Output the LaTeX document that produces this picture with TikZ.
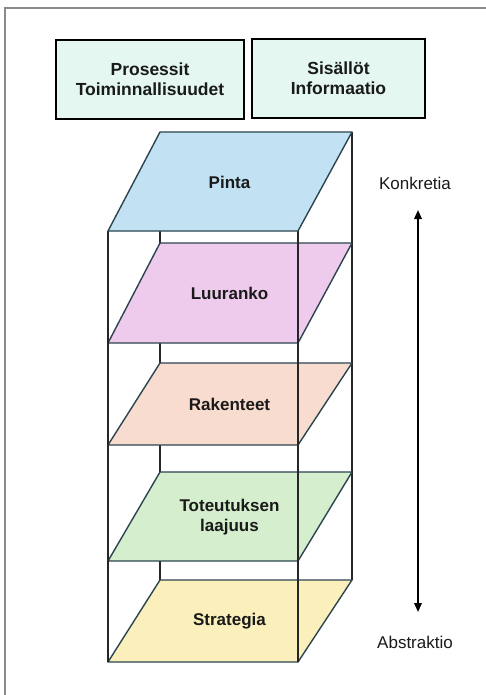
\documentclass[tikz,border=0pt]{standalone}
\usepackage{fontspec}
\setmainfont{Liberation Sans}
\usetikzlibrary{arrows.meta}
\definecolor{frame}{HTML}{8A8A8A}
\definecolor{boxfill}{HTML}{E4F7F1}
\definecolor{edge}{HTML}{2C4450}
\definecolor{cPinta}{HTML}{C2E2F3}
\definecolor{cLuu}{HTML}{EECBEC}
\definecolor{cRak}{HTML}{F8DCCF}
\definecolor{cTot}{HTML}{D4EECE}
\definecolor{cStr}{HTML}{FBF0BC}
\definecolor{txt}{HTML}{1A1A1A}
\tikzset{
  topbox/.style={draw=black, line width=2.5pt, fill=boxfill, align=center,
    font=\fontsize{17.5}{20}\selectfont\bfseries, text=txt},
  layer/.style={draw=edge, line width=1.4pt, line join=round},
  layerlabel/.style={align=center, font=\fontsize{17}{20}\selectfont\bfseries, text=txt},
  sidelabel/.style={font=\fontsize{17}{20}\selectfont, text=txt},
  frameline/.style={draw=frame, line width=2pt},
  boxline/.style={draw=black!85, line width=1.4pt},
}
\begin{document}
\begin{tikzpicture}[x=1pt,y=-1pt]
\useasboundingbox (0,0) rectangle (486,695);
\fill[white] (0,0) rectangle (486,695);
% outer frame (top and left edges visible)
\draw[frameline] (5,695) -- (5,8) -- (486,8);

% top boxes
\node[topbox, minimum width=188pt, minimum height=79pt] (proc) at (150,79.5) {Prosessit\\Toiminnallisuudet};
\node[topbox, minimum width=173pt, minimum height=79pt] (cont) at (338.5,78.5) {Sisällöt\\Informaatio};

% back edges of the box
\draw[boxline] (160,231) -- (160,580);
\draw[boxline] (352,132) -- (352,580);

% layers
\draw[layer, fill=cStr] (160,580) -- (352,580) -- (298,662) -- (108,662) -- cycle;
\draw[layer, fill=cTot] (160,472) -- (352,472) -- (298,561) -- (108,561) -- cycle;
\draw[layer, fill=cRak] (160,363) -- (352,363) -- (298,445) -- (108,445) -- cycle;
\draw[layer, fill=cLuu] (160,243) -- (352,243) -- (298,343) -- (108,343) -- cycle;

% front edges of the box
\draw[boxline] (108,231) -- (108,662);
\draw[boxline] (298,231) -- (298,662);

\draw[layer, fill=cPinta] (160,132) -- (352,132) -- (298,231) -- (108,231) -- cycle;

% layer labels
\node[layerlabel] (pinta) at (229.5,182) {Pinta};
\node[layerlabel] (luu) at (229.5,293) {Luuranko};
\node[layerlabel] (rak) at (229.5,404) {Rakenteet};
\node[layerlabel] (tot) at (229.5,517) {Toteutuksen\\laajuus};
\node[layerlabel] (str) at (229.5,621) {Strategia};

% side axis
\node[sidelabel] (konk) at (415,183) {Konkretia};
\node[sidelabel] (abst) at (415,642) {Abstraktio};
\coordinate (atop) at (418,210);
\coordinate (abot) at (418,612);
\draw[line width=1.8pt, black, {Triangle[width=7.5pt,length=9pt]}-{Triangle[width=7.5pt,length=9pt]}] (abot) -- (atop);
\end{tikzpicture}
\end{document}
